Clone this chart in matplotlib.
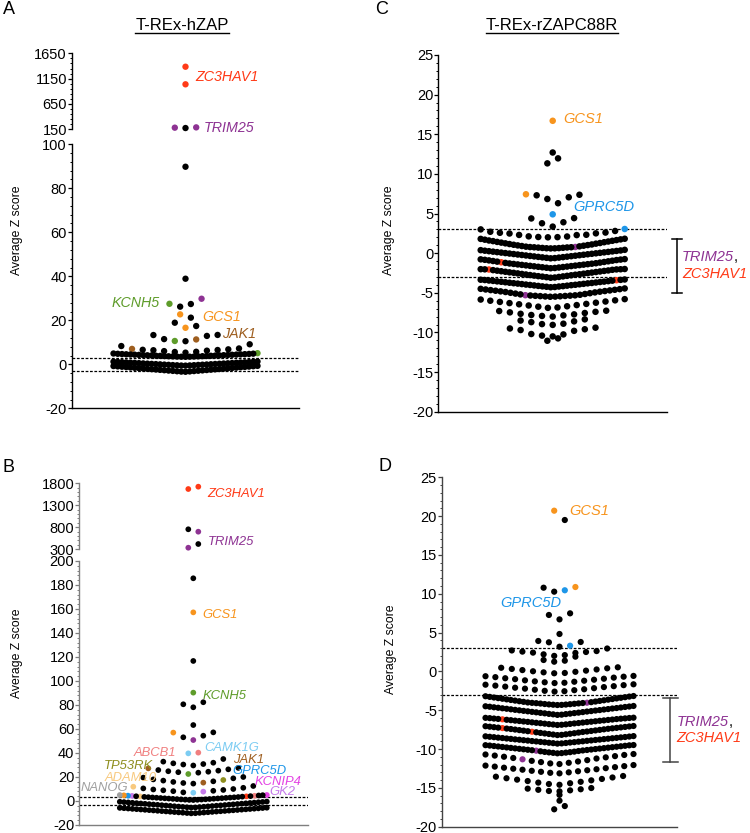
import numpy as np
import matplotlib
matplotlib.use('Agg')
import matplotlib.pyplot as plt
from matplotlib.lines import Line2D

plt.rcParams['font.family'] = ['Liberation Sans', 'DejaVu Sans']
plt.rcParams['axes.unicode_minus'] = False

RED = '#FF3A17'; PURPLE = '#8E3393'; ORANGE = '#F7941D'; GREEN = '#5E9C2A'
BROWN = '#9E5E1F'; BLUE = '#1E96E8'; SALMON = '#F07F7F'; LBLUE = '#7CCCF2'
OLIVE = '#8E8E1E'; PEACH = '#F8C97E'; MAGENTA = '#E442E4'; VIOLET = '#C57BEA'
GRAY = '#A0A0A0'

# ---------------- data ----------------
# Panel A : T-REx-hZAP
A_black = [175, 89.8, 38.9, 26.2, 27.4, 21.2, 17.4, 18.9,
           10.5, 11.45, 12.9, 13.3, 13.35,
           5.3, 5.6, 5.7, 6.0, 6.2, 6.4, 6.5, 6.6, 6.8, 7.2, 8.3, 9.1,
           3.40, 3.43, 3.45, 3.49, 3.52, 3.57, 3.60, 3.64, 3.69, 3.73, 3.78, 3.82,
           3.87, 3.91, 3.96, 4.01, 4.05, 4.10, 4.14, 4.19, 4.24, 4.28, 4.33, 4.38,
           4.42, 4.47, 4.52, 4.56, 4.61, 4.66, 4.71, 4.77, 4.83, 4.90,
           -0.60, -0.56, -0.51, -0.45, -0.40, -0.35, -0.29, -0.24, -0.18, -0.13,
           -0.08, -0.02, 0.03, 0.09, 0.14, 0.19, 0.25, 0.30, 0.36, 0.41, 0.46, 0.52,
           0.57, 0.63, 0.68, 0.74, 0.79, 0.85, 0.90, 0.96, 1.01, 1.07, 1.13, 1.20, 1.28,
           -3.40, -3.32, -3.24, -3.16, -3.08, -3.00, -2.93, -2.85, -2.77, -2.69,
           -2.61, -2.53, -2.45, -2.37, -2.30, -2.22, -2.14, -2.06, -1.98, -1.90,
           -1.82, -1.74, -1.67, -1.59, -1.51, -1.43, -1.35, -1.27, -1.19, -1.11,
           -1.04, -0.96, -0.88, -0.80, -0.72]
A_hl = [1385, 1038, 182, 188, 29.8, 27.5, 22.7, 16.6, 10.6, 11.3, 7.0, 5.05]
A_hl_col = [RED, RED, PURPLE, PURPLE, PURPLE, GREEN, ORANGE, ORANGE, GREEN, BROWN, BROWN, GREEN]

# Panel B : second hZAP screen
B_black = [755, 420, 185.6, 116.7, 78.1, 80.6, 82.3, 63.3, 53.1, 54.4, 57.2,
           29.6, 30.4, 30.8, 31.4, 31.9, 32.8, 35.0,
           23.6, 24.0, 24.4, 24.8, 25.3, 25.8, 26.4, 27.6,
           14.5, 15.0, 15.9, 16.4, 17.0, 18.0, 18.9, 19.5, 20.0,
           7.2, 8.2, 8.5, 8.9, 9.2, 9.6, 10.0, 10.5, 11.0, 12.5,
           0.80, 0.90, 1.00, 1.10, 1.20, 1.32, 1.43, 1.55, 1.66, 1.78, 1.90, 2.02,
           2.13, 2.25, 2.37, 2.48, 2.60, 2.72, 2.83, 2.95, 3.07, 3.19, 3.31, 3.43,
           3.62, 3.95, 4.05, 4.60, 4.85,
           -5.50, -5.36, -5.21, -5.07, -4.93, -4.79, -4.64, -4.50, -4.36, -4.21,
           -4.07, -3.93, -3.79, -3.64, -3.50, -3.36, -3.21, -3.07, -2.93, -2.79,
           -2.64, -2.50, -2.36, -2.21, -2.07, -1.93, -1.79, -1.64, -1.50, -1.36,
           -1.21, -1.07, -0.93, -0.79, -0.64, -0.50,
           -10.30, -10.17, -10.03, -9.90, -9.76, -9.63, -9.49, -9.36, -9.23, -9.09,
           -8.96, -8.82, -8.69, -8.55, -8.42, -8.29, -8.15, -8.02, -7.88, -7.75,
           -7.61, -7.48, -7.35, -7.21, -7.08, -6.94, -6.81, -6.67, -6.54, -6.41,
           -6.27, -6.14, -6.00, -5.87, -5.73, -5.60]
B_hl = [1670, 1723, 700, 336, 157.2, 90.3, 50.8, 57.0, 39.7, 40.3, 27.2, 22.5,
        15.3, 17.5, 6.9, 7.8, 11.9,
        3.80, 3.86, 4.25, 4.33, 4.45, 4.70, 4.95, 5.02]
B_hl_col = [RED, RED, PURPLE, PURPLE, ORANGE, GREEN, PURPLE, ORANGE, LBLUE, SALMON, BROWN, GREEN,
            BROWN, OLIVE, LBLUE, VIOLET, PEACH,
            PEACH, RED, VIOLET, SALMON, BLUE, ORANGE, GRAY, MAGENTA]

# Panel C : T-REx-rZAPC88R
C_black = [12.7, 11.33, 11.96, 6.3, 6.83, 7.05, 7.3, 7.37,
           3.35, 3.77, 3.9, 4.38, 4.42,
           2.0, 2.02, 2.04, 2.1, 2.12, 2.28, 2.3, 2.32, 2.48, 2.5, 2.57, 2.6, 2.7, 2.8, 3.0,
           0.6, 0.61, 0.62, 0.64, 0.66, 0.68, 0.7, 0.72, 0.74, 0.75, 0.77,
           0.82, 0.86, 0.9, 0.94, 0.98, 1.02, 1.06, 1.1, 1.15, 1.2, 1.24, 1.28,
           1.33, 1.38, 1.42, 1.47, 1.52, 1.56, 1.6, 1.65, 1.7, 1.74, 1.8, 1.82,
           -0.65, -0.62, -0.59, -0.56, -0.53, -0.5, -0.47, -0.44, -0.41, -0.38,
           -0.35, -0.32, -0.29, -0.26, -0.23, -0.2, -0.17, -0.14, -0.11, -0.08,
           -0.05, -0.02, 0.01, 0.04, 0.07, 0.1, 0.13, 0.16, 0.19, 0.22, 0.25, 0.28,
           0.31, 0.34, 0.38, 0.42,
           -1.9, -1.87, -1.84, -1.81, -1.78, -1.75, -1.72, -1.69, -1.66, -1.63,
           -1.6, -1.57, -1.54, -1.51, -1.48, -1.45, -1.42, -1.39, -1.36, -1.33,
           -1.3, -1.27, -1.23, -1.19, -1.11, -1.07, -1.03, -0.99, -0.95, -0.91,
           -0.87, -0.84, -0.81, -0.78, -0.75,
           -3.10, -3.07, -3.03, -3.00, -2.96, -2.93, -2.90, -2.86, -2.83, -2.79,
           -2.76, -2.72, -2.69, -2.66, -2.62, -2.59, -2.55, -2.52, -2.48, -2.45,
           -2.42, -2.38, -2.35, -2.31, -2.28, -2.24, -2.21, -2.18, -2.14, -2.10,
           -2.05, -2.04, -2.03, -2.02, -2.00,
           -4.30, -4.27, -4.24, -4.21, -4.19, -4.16, -4.13, -4.10, -4.07, -4.04,
           -4.01, -3.99, -3.96, -3.93, -3.90, -3.87, -3.84, -3.81, -3.79, -3.76,
           -3.73, -3.70, -3.67, -3.64, -3.61, -3.59, -3.56, -3.53, -3.50, -3.47,
           -3.45, -3.39, -3.37, -3.35, -3.32,
           -5.5, -5.48, -5.46, -5.44, -5.42, -5.4, -5.38, -5.36, -5.34, -5.32,
           -5.25, -5.2, -5.15, -5.1, -5.05, -5.0, -4.95, -4.9, -4.86, -4.82,
           -4.78, -4.74, -4.7, -4.66, -4.62, -4.58, -4.54, -4.5, -4.45,
           -6.9, -6.85, -6.75, -6.7, -6.6, -6.55, -6.45, -6.4, -6.3, -6.25,
           -6.15, -6.1, -6.0, -5.95, -5.85, -5.8,
           -8.0, -7.92, -7.85, -7.8, -7.72, -7.65, -7.55, -7.47, -7.4, -7.3, -7.26,
           -9.05, -8.95, -8.9, -8.7, -8.6, -8.5, -8.35,
           -10.5, -10.4, -10.25, -10.2, -9.8, -9.7, -9.6, -9.5, -9.4,
           -11.05, -10.75]
C_hl = [16.7, 7.43, 4.9, 3.05, 0.78, -1.15, -2.06, -3.41, -5.3]
C_hl_col = [ORANGE, ORANGE, BLUE, BLUE, PURPLE, RED, RED, RED, PURPLE]

# Panel D : second rZAPC88R screen
D_black = [19.5, 10.27, 10.78, 6.7, 7.27, 7.48, 4.82, 3.18, 3.75, 3.79, 3.92,
           2.0, 2.1, 2.2, 2.38, 2.42, 2.5, 2.55, 2.62, 2.7, 2.95,
           1.25, 1.38, 1.47, 1.9,
           -0.24, -0.2, -0.12, -0.05, 0.02, 0.1, 0.17, 0.25, 0.32, 0.4, 0.47, 0.53,
           -1.5, -1.46, -1.4, -1.33, -1.28, -1.2, -1.15, -1.07, -1.0, -0.94, -0.88,
           -0.8, -0.74, -0.68, -0.62, -0.58,
           -2.6, -2.55, -2.5, -2.42, -2.36, -2.3, -2.22, -2.16, -2.1, -2.02, -1.96,
           -1.9, -1.83, -1.77, -1.71, -1.66,
           -4.33, -4.31, -4.29, -4.27, -4.25, -4.22, -4.2, -4.17, -4.14, -4.12,
           -4.09, -4.07, -4.05, -4.0, -3.96, -3.92, -3.88, -3.84, -3.8, -3.76,
           -3.72, -3.68, -3.64, -3.6, -3.56, -3.52, -3.48, -3.44, -3.4, -3.36,
           -3.32, -3.28, -3.24, -3.2, -3.17,
           -5.60, -5.57, -5.53, -5.50, -5.47, -5.44, -5.40, -5.37, -5.34, -5.31,
           -5.27, -5.24, -5.21, -5.17, -5.14, -5.11, -5.08, -5.04, -5.01, -4.98,
           -4.95, -4.91, -4.88, -4.85, -4.81, -4.78, -4.75, -4.72, -4.68, -4.65,
           -4.62, -4.58, -4.55, -4.52, -4.49, -4.45,
           -6.90, -6.87, -6.84, -6.82, -6.79, -6.76, -6.73, -6.70, -6.67, -6.65,
           -6.62, -6.59, -6.56, -6.53, -6.50, -6.48, -6.45, -6.42, -6.39, -6.36,
           -6.34, -6.31, -6.28, -6.25, -6.23, -6.20, -6.14, -6.12, -6.09, -6.07,
           -6.05, -6.02, -6.00, -5.98, -5.96,
           -8.20, -8.17, -8.13, -8.10, -8.06, -8.03, -7.99, -7.96, -7.92, -7.88,
           -7.84, -7.80, -7.74, -7.70, -7.67, -7.63, -7.60, -7.56, -7.53, -7.49,
           -7.46, -7.42, -7.39, -7.36, -7.33, -7.27, -7.24, -7.21, -7.18, -7.15,
           -7.12, -7.09, -7.06, -7.03,
           -9.30, -9.27, -9.24, -9.22, -9.19, -9.16, -9.13, -9.11, -9.08, -9.05,
           -9.02, -9.00, -8.97, -8.94, -8.91, -8.89, -8.86, -8.83, -8.80, -8.78,
           -8.75, -8.72, -8.69, -8.67, -8.64, -8.61, -8.58, -8.56, -8.53, -8.50,
           -8.47, -8.45, -8.42, -8.39, -8.36, -8.33,
           -10.55, -10.52, -10.49, -10.46, -10.43, -10.40, -10.37, -10.33, -10.29, -10.25,
           -10.18, -10.15, -10.12, -10.09, -10.06, -10.03, -10.00, -9.97, -9.94, -9.91,
           -9.88, -9.85, -9.82, -9.79, -9.76, -9.73, -9.70, -9.67, -9.64, -9.61,
           -9.58, -9.55, -9.52, -9.50, -9.48,
           -11.93, -11.85, -11.77, -11.68, -11.60, -11.52, -11.43,
           -11.22, -11.15, -11.07, -10.99, -10.91, -10.84, -10.76, -10.70, -10.64,
           -13.13, -13.06, -13.00, -12.93, -12.86, -12.80, -12.73, -12.66, -12.60,
           -12.53, -12.46, -12.40, -12.33, -12.26, -12.20, -12.13, -12.06,
           -14.60, -14.50, -14.40, -14.32, -14.22, -14.12, -14.03, -13.94, -13.85,
           -13.76, -13.66, -13.56, -13.47,
           -15.45, -15.40, -15.32, -15.25, -15.18, -15.10, -15.02,
           -15.9, -16.65, -17.34, -17.76]
D_hl = [20.7, 10.45, 10.87, 3.31, -4.03, -6.17, -7.30, -7.77, -10.21, -11.32]
D_hl_col = [ORANGE, BLUE, ORANGE, BLUE, PURPLE, RED, RED, RED, PURPLE, PURPLE]

# row (bin) boundaries used by the dot layout, and rows laid out right-to-left
A_bins = [-0.65, 2.0, 5.2, 10.0, 15, 20, 24, 32, 60, 100, 500, 1200]
B_bins = [-5.55, 0.65, 6.0, 13.5, 21.0, 28.5, 37, 45, 60, 70, 85, 100, 130, 170, 250, 550, 1200]
C_bins = [-10.6, -9.2, -8.2, -7.1, -5.6, -4.38, -3.2, -1.95, -0.7, 0.5, 1.9, 3.2, 4.7, 5.5, 10, 12.3, 14]
D_bins = [-17.0, -16.2, -15.7, -14.8, -13.3, -12.0, -10.6, -9.4, -8.27, -6.97, -5.8, -4.4,
          -3.0, -1.58, -0.4, 1.0, 1.95, 3.1, 4.5, 5.5, 9, 15]
A_flip = [22, 17]
B_flip = [720]
C_flip = [7]
D_flip = [20, 3.5]

# ---------------- helpers ----------------
W, H = 750, 833
fig = plt.figure(figsize=(7.5, 8.33), dpi=100)


def axes_px(x0, x1, ytop, ybot):
    return fig.add_axes([x0 / W, 1 - ybot / H, (x1 - x0) / W, (ybot - ytop) / H])


def swarm_x(values, edges, flips, center, spacing, halfwidth):
    values = np.asarray(values, float)
    x = np.zeros_like(values)
    bins = np.digitize(values, edges)
    flip_bins = set(np.digitize(flips, edges).tolist())
    for b in np.unique(bins):
        idx = np.where(bins == b)[0]
        idx = idx[np.argsort(values[idx], kind='stable')]
        n = len(idx)
        s = spacing if n == 1 else min(spacing, 2 * halfwidth / (n - 1))
        sgn = -1 if b in flip_bins else 1
        for i, j in enumerate(idx):
            if n % 2:
                k = (i + 1) // 2
                slot = 0 if i == 0 else (-k if i % 2 == 1 else k)
            else:
                k = i // 2 + 0.5
                slot = -k if i % 2 == 0 else k
            x[j] = center + sgn * slot * s
    return x


def style(ax, ylim, major, minor, color, width, bottom=True):
    ax.set_xlim(0, width)
    ax.set_ylim(*ylim)
    ax.patch.set_alpha(0)
    ax.spines['top'].set_visible(False)
    ax.spines['right'].set_visible(False)
    ax.spines['bottom'].set_visible(bottom)
    for sp in ('left', 'bottom'):
        ax.spines[sp].set_color(color)
        ax.spines[sp].set_linewidth(1.0)
    ax.set_xticks([])
    ax.set_yticks(major)
    ax.set_yticks(minor, minor=True)
    ax.tick_params(axis='y', which='major', length=2.6, width=0.9, color=color,
                   labelsize=10.5, pad=0.8, labelcolor='black')
    ax.tick_params(axis='y', which='minor', length=1.4, width=0.7, color=color)


def draw_points(axes_list, limits, values, colors, x, size):
    values = np.asarray(values)
    order = [i for i, c in enumerate(colors) if c != 'k'] + [i for i, c in enumerate(colors) if c == 'k']
    for ax, (lo, hi) in zip(axes_list, limits):
        sel = [i for i in order if lo <= values[i] <= hi]
        ax.scatter(x[sel], values[sel], s=size, c=[colors[i] for i in sel],
                   linewidths=0, clip_on=False, zorder=3)


def panel(black, hl, hl_col, bins, flips, center, spacing, halfwidth, axes_list, limits, size):
    vals = list(black) + list(hl)
    cols = ['k'] * len(black) + list(hl_col)
    x = swarm_x(vals, bins, flips, center, spacing, halfwidth)
    draw_points(axes_list, limits, vals, cols, x, size)


def ftext(x, y, s, **kw):
    return fig.text(x / W, 1 - y / H, s, **kw)


def gene(x, y, s, color, size, ha='left'):
    ftext(x, y, s, color=color, fontsize=size, style='italic', ha=ha, va='center')


dash = dict(color='black', lw=0.9, ls=(0, (2.2, 1.3)), zorder=1)

# ---------------- panel A ----------------
axA_up = axes_px(71.7, 299, 53.3, 129.3)
axA = axes_px(71.7, 299, 144.3, 408.3)
wA = 299 - 71.7
style(axA_up, (150, 1650), [150, 650, 1150, 1650], np.arange(150, 1651, 100), 'black', wA, bottom=False)
style(axA, (-20, 100), np.arange(-20, 101, 20), np.arange(-20, 101, 4), 'black', wA)
axA.axhline(3, **dash)
axA.axhline(-3, **dash)
panel(A_black, A_hl, A_hl_col, A_bins, A_flip, 185.5 - 71.7, 10.7, 72,
      [axA_up, axA], [(100.5, 2000), (-50, 100.5)], 21)

# ---------------- panel B ----------------
axB_up = axes_px(79, 308, 483.3, 549.3)
axB = axes_px(79, 308, 561, 825)
wB = 308 - 79
GB = '#7F7F7F'
style(axB_up, (300, 1800), [300, 800, 1300, 1800], np.arange(300, 1801, 100), GB, wB, bottom=False)
style(axB, (-20, 200), np.arange(-20, 201, 20), np.arange(-20, 201, 4), GB, wB)
axB.axhline(3, **dash)
axB.axhline(-3, **dash)
panel(B_black, B_hl, B_hl_col, B_bins, B_flip, 193.3 - 79, 10.0, 73.5,
      [axB_up, axB], [(200.5, 2000), (-50, 200.5)], 17)

# ---------------- panel C ----------------
axC = axes_px(438.3, 667, 55, 411.7)
wC = 667 - 438.3
style(axC, (-20, 25), np.arange(-20, 26, 5), np.arange(-20, 26, 1), 'black', wC)
axC.axhline(3, **dash)
axC.axhline(-3, **dash)
panel(C_black, C_hl, C_hl_col, C_bins, C_flip, 552.7 - 438.3, 10.7, 72, [axC], [(-50, 50)], 22)
xe = 676.7 - 438.3
axC.plot([xe, xe], [1.8, -5.0], color='black', lw=1.1, clip_on=False)
axC.plot([xe - 5, xe + 5], [1.8, 1.8], color='black', lw=1.1, clip_on=False)
axC.plot([xe - 5, xe + 5], [-5.0, -5.0], color='black', lw=1.1, clip_on=False)

# ---------------- panel D ----------------
axD = axes_px(441.7, 677, 477.3, 826.7)
wD = 677 - 441.7
GD = '#444444'
style(axD, (-20, 25), np.arange(-20, 26, 5), np.arange(-20, 26, 1), GD, wD)
axD.axhline(3, **dash)
axD.axhline(-3, **dash)
panel(D_black, D_hl, D_hl_col, D_bins, D_flip, 559.5 - 441.7, 10.6, 74, [axD], [(-50, 50)], 20)
xe = 670 - 441.7
axD.plot([xe, xe], [-3.39, -11.7], color=GD, lw=1.1, clip_on=False)
axD.plot([xe - 7.5, xe + 7.5], [-3.39, -3.39], color=GD, lw=1.1, clip_on=False)
axD.plot([xe - 7.5, xe + 7.5], [-11.7, -11.7], color=GD, lw=1.1, clip_on=False)

# ---------------- texts ----------------
for lab, x, y in [('A', 3, 10), ('B', 3, 467), ('C', 375, 10), ('D', 378, 466.5)]:
    ftext(x, y, lab, fontsize=13, ha='left', va='center')

for x, y in [(17, 230), (17, 653), (389, 230), (391, 649)]:
    ftext(x, y, 'Average Z score', fontsize=8.8, rotation=90, ha='center', va='center')

titles = [ftext(182, 30.5, 'T-REx-hZAP', fontsize=12, ha='center', va='baseline'),
          ftext(551.7, 30.5, 'T-REx-rZAPC88R', fontsize=12, ha='center', va='baseline')]

# gene labels A
gene(195, 76.7, 'ZC3HAV1', RED, 10.3)
gene(203.3, 127.7, 'TRIM25', PURPLE, 10.3)
gene(160, 303.3, 'KCNH5', GREEN, 10.3, ha='right')
gene(202.3, 317.3, 'GCS1', ORANGE, 10.3)
gene(221.7, 334.3, 'JAK1', BROWN, 10.3)
# gene labels B
gene(207.3, 494, 'ZC3HAV1', RED, 9.4)
gene(208.3, 542.3, 'TRIM25', PURPLE, 9.4)
gene(202.7, 615, 'GCS1', ORANGE, 9.4)
gene(202.7, 696, 'KCNH5', GREEN, 9.4)
gene(175.7, 753.3, 'ABCB1', SALMON, 9.4, ha='right')
gene(204, 747.7, 'CAMK1G', LBLUE, 9.4)
gene(232.7, 760, 'JAK1', BROWN, 9.4)
gene(153.3, 765.7, 'TP53RK', OLIVE, 9.4, ha='right')
gene(232.3, 771, 'GPRC5D', BLUE, 9.4)
gene(156.7, 777.7, 'ADAM10', PEACH, 9.4, ha='right')
gene(255, 781.7, 'KCNIP4', MAGENTA, 9.4)
gene(128.3, 788.3, 'NANOG', GRAY, 9.4, ha='right')
gene(269.3, 792.3, 'GK2', VIOLET, 9.4)
# gene labels C
gene(563.3, 119.3, 'GCS1', ORANGE, 10.5)
gene(573.3, 207.3, 'GPRC5D', BLUE, 10.5)
t1 = ftext(682, 256.7, 'TRIM25', color=PURPLE, fontsize=10.5, style='italic', ha='left', va='center')
gene(682, 274, 'ZC3HAV1', RED, 10.5)
# gene labels D
gene(569.3, 511, 'GCS1', ORANGE, 10.5)
gene(561.7, 602.7, 'GPRC5D', BLUE, 10.5, ha='right')
t2 = ftext(676.7, 721.7, 'TRIM25', color=PURPLE, fontsize=10.5, style='italic', ha='left', va='center')
gene(676.7, 738.3, 'ZC3HAV1', RED, 10.5)

fig.canvas.draw()
r = fig.canvas.get_renderer()
for t in (t1, t2):
    bb = t.get_window_extent(r)
    fig.text(bb.x1 / W, bb.y0 / H + (bb.height / 2) / H, ',', color='black', fontsize=10.5,
             ha='left', va='center')
for t in titles:
    bb = t.get_window_extent(r)
    yb = 1 - 32.5 / H
    fig.add_artist(Line2D([bb.x0 / W, bb.x1 / W], [yb, yb], color='black', lw=1.0,
                          transform=fig.transFigure))

fig.savefig('out.png', dpi=100)
